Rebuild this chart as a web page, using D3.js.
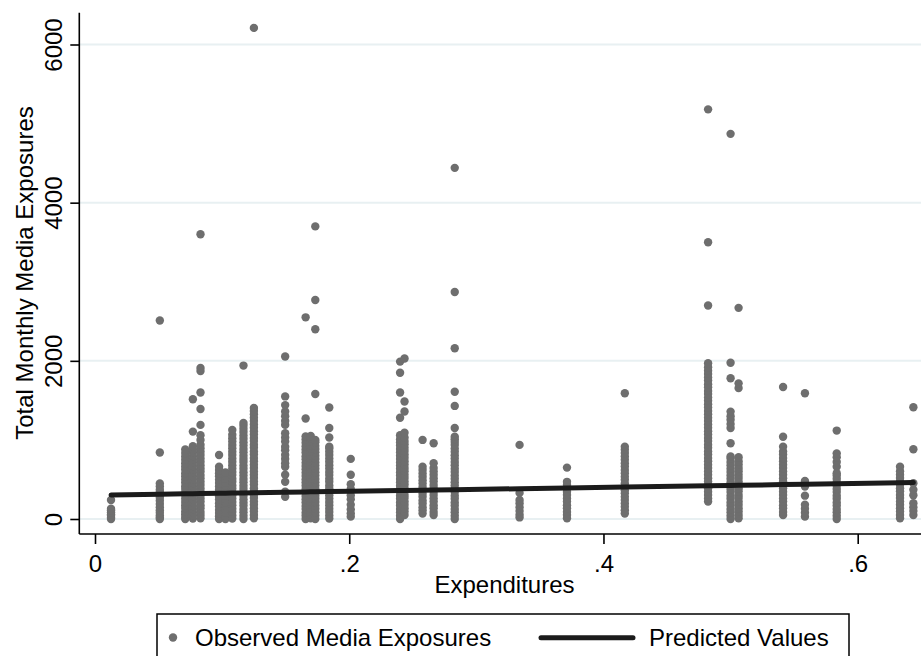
<!DOCTYPE html>
<html>
<head>
<meta charset="utf-8">
<script src="https://cdn.jsdelivr.net/npm/d3@7"></script>
<style>
  body { margin: 0; background: #fff; }
  svg { display: block; font-family: "Liberation Sans", Arial, sans-serif; }
</style>
</head>
<body>
<svg id="chart" width="921" height="656"></svg>
<script>
// expenditure levels (x) and the observed exposures at each level
const expenditures = [0.0126, 0.051, 0.071, 0.077, 0.083, 0.0976, 0.1026, 0.108, 0.1168, 0.125,
  0.1496, 0.1657, 0.1697, 0.1733, 0.1843, 0.2012, 0.240, 0.2435, 0.2577, 0.2664, 0.283,
  0.334, 0.3713, 0.4168, 0.4823, 0.5, 0.5063, 0.5413, 0.5585, 0.5835, 0.6333, 0.6438]

const exposures = [
  [0, 15, 40, 60, 85, 110, 130, 240],
  [0, 20, 45, 80, 110, 150, 190, 230, 270, 300, 340, 370, 410, 450, 840, 2510],
  [0, 25, 60, 95, 140, 175, 215, 255, 300, 335, 380, 415, 460, 500, 540, 580, 625, 665, 705, 750, 790, 835, 880],
  [5, 45, 85, 125, 165, 210, 250, 290, 335, 375, 415, 455, 500, 540, 585, 625, 670, 710, 750, 795, 840, 880, 920, 1105, 1515],
  [10, 50, 90, 135, 175, 220, 260, 300, 345, 385, 430, 470, 515, 555, 600, 640, 680, 725, 765, 810, 850, 895, 940, 1000, 1060, 1190, 1390, 1600, 1870, 1910, 3600],
  [0, 35, 75, 115, 160, 200, 245, 285, 330, 370, 410, 455, 495, 540, 580, 620, 660, 810],
  [0, 40, 85, 125, 170, 210, 255, 295, 340, 380, 425, 465, 510, 550, 590],
  [5, 45, 90, 130, 175, 215, 260, 300, 340, 385, 425, 470, 510, 555, 595, 640, 680, 725, 765, 810, 850, 895, 935, 980, 1020, 1065, 1125],
  [0, 40, 85, 125, 170, 210, 250, 295, 335, 380, 420, 465, 505, 550, 590, 635, 675, 720, 760, 800, 845, 885, 930, 970, 1015, 1055, 1100, 1140, 1180, 1215, 1940],
  [10, 50, 95, 135, 180, 220, 265, 305, 350, 390, 435, 475, 520, 560, 600, 645, 685, 730, 770, 815, 855, 900, 940, 985, 1025, 1070, 1110, 1155, 1195, 1240, 1280, 1325, 1365, 1405, 6210],
  [280, 345, 470, 560, 660, 705, 760, 810, 870, 915, 980, 1030, 1085, 1190, 1240, 1300, 1360, 1440, 1550, 2055],
  [0, 40, 80, 125, 165, 210, 250, 290, 335, 375, 420, 460, 500, 545, 585, 630, 670, 710, 755, 795, 840, 880, 920, 965, 1005, 1045, 1270, 2550],
  [10, 55, 95, 140, 180, 220, 265, 305, 350, 390, 430, 475, 515, 560, 600, 640, 685, 725, 770, 810, 850, 895, 935, 980, 1020, 1050],
  [0, 45, 85, 130, 170, 215, 255, 295, 340, 380, 425, 465, 505, 550, 590, 635, 675, 715, 760, 800, 845, 885, 925, 970, 1000, 1580, 2400, 2770, 3700],
  [5, 45, 90, 130, 175, 215, 260, 300, 345, 385, 425, 470, 510, 555, 595, 640, 680, 725, 765, 810, 850, 890, 915, 1030, 1150, 1410],
  [30, 70, 120, 180, 250, 300, 380, 440, 560, 760],
  [0, 40, 85, 125, 170, 210, 255, 295, 340, 380, 420, 465, 505, 550, 590, 635, 675, 715, 760, 800, 845, 885, 930, 970, 1010, 1060, 1280, 1600, 1850, 1990],
  [50, 95, 135, 180, 220, 265, 305, 350, 390, 435, 475, 520, 560, 605, 645, 690, 730, 775, 815, 860, 900, 945, 985, 1030, 1090, 1360, 1485, 2030],
  [70, 110, 150, 195, 235, 280, 320, 365, 405, 450, 490, 535, 575, 620, 660, 1000],
  [50, 90, 135, 175, 220, 260, 305, 345, 390, 430, 475, 515, 560, 600, 645, 705, 958],
  [0, 40, 85, 125, 170, 210, 255, 295, 340, 380, 425, 465, 510, 550, 595, 635, 680, 720, 765, 805, 850, 890, 935, 975, 1010, 1040, 1150, 1430, 1610, 2160, 2870, 4440],
  [20, 55, 100, 150, 200, 240, 330, 937],
  [10, 50, 90, 135, 175, 220, 260, 305, 345, 390, 430, 470, 650],
  [70, 110, 155, 195, 240, 280, 325, 365, 410, 450, 495, 535, 580, 620, 665, 705, 750, 790, 835, 875, 915, 1590],
  [220, 260, 305, 345, 390, 430, 475, 515, 560, 600, 645, 685, 730, 770, 815, 855, 900, 940, 985, 1025, 1070, 1110, 1155, 1195, 1240, 1280, 1325, 1365, 1410, 1450, 1495, 1535, 1580, 1620, 1665, 1705, 1750, 1790, 1835, 1875, 1920, 1970, 2700, 3500, 5180],
  [0, 40, 85, 125, 170, 210, 255, 295, 340, 380, 425, 465, 510, 550, 595, 635, 680, 720, 765, 790, 958, 1150, 1200, 1255, 1300, 1358, 1780, 1975, 4870],
  [10, 50, 95, 135, 180, 220, 265, 305, 350, 390, 435, 475, 520, 560, 605, 645, 690, 730, 780, 1655, 1715, 2670],
  [50, 90, 135, 175, 220, 260, 305, 345, 390, 430, 475, 515, 560, 600, 645, 685, 730, 770, 815, 855, 915, 1040, 1670],
  [30, 80, 130, 180, 295, 410, 445, 480, 1590],
  [0, 40, 85, 125, 170, 210, 255, 295, 340, 380, 425, 465, 510, 550, 580, 660, 720, 780, 830, 1118],
  [10, 50, 95, 135, 180, 220, 265, 305, 350, 390, 435, 475, 520, 560, 605, 660],
  [50, 100, 150, 200, 300, 370, 452, 882, 1413]
]

// fitted values, one per expenditure level
const predicted = [304, 314, 319, 320, 322, 325, 326, 328, 330, 332, 338, 342, 343, 344, 347, 351,
  360, 361, 365, 367, 371, 383, 393, 404, 420, 425, 426, 435, 439, 445, 457, 460]

const yTicks = [0, 2000, 4000, 6000]
const xTicks = [0, 0.2, 0.4, 0.6]
const legendLabels = ['Observed Media Exposures', 'Predicted Values']

const svg = d3.select('#chart')

const plot = { left: 79.3, right: 921, top: 12.7, bottom: 534 }

const x = d3.scaleLinear().domain([0, 0.6]).range([95, 857.7])
const y = d3.scaleLinear().domain([0, 6000]).range([519, 44.5])

const DOT = '#6e6e6e'
const LINE = '#1b1b1b'

// gridlines
svg.append('g')
  .selectAll('line')
  .data(yTicks)
  .enter().append('line')
  .attr('x1', plot.left).attr('x2', plot.right)
  .attr('y1', d => y(d)).attr('y2', d => y(d))
  .attr('stroke', '#e8f0f2')
  .attr('stroke-width', 2)

// observed points
const points = []
expenditures.forEach((e, i) => {
  exposures[i].forEach(v => points.push({ x: e, y: v }))
})

svg.append('g')
  .selectAll('circle')
  .data(points)
  .enter().append('circle')
  .attr('cx', d => x(d.x))
  .attr('cy', d => y(d.y))
  .attr('r', 4.2)
  .attr('fill', DOT)

// fitted line
const fit = expenditures.map((e, i) => [e, predicted[i]])
svg.append('path')
  .datum(fit)
  .attr('fill', 'none')
  .attr('stroke', LINE)
  .attr('stroke-width', 5)
  .attr('stroke-linecap', 'round')
  .attr('d', d3.line().x(d => x(d[0])).y(d => y(d[1])))

// axes
const yAxis = svg.append('g')
  .attr('transform', `translate(${plot.left},0)`)
  .call(d3.axisLeft(y).tickValues(yTicks).tickSize(9).tickPadding(0).tickFormat(d3.format('d')))
yAxis.select('.domain').remove()
yAxis.selectAll('.tick line').attr('stroke', '#000').attr('stroke-width', 1.6)
yAxis.selectAll('.tick text')
  .attr('transform', 'rotate(-90)')
  .attr('x', 0).attr('y', -17.6).attr('dy', 0)
  .attr('text-anchor', 'middle')
  .attr('fill', '#000')
  .style('font-size', '24px')

const xAxis = svg.append('g')
  .attr('transform', `translate(0,${plot.bottom})`)
  .call(d3.axisBottom(x).tickValues(xTicks).tickSize(10)
    .tickFormat(d => d === 0 ? '0' : d3.format('.1f')(d).replace(/^0/, '')))
xAxis.select('.domain').remove()
xAxis.selectAll('.tick line').attr('stroke', '#000').attr('stroke-width', 1.6)
xAxis.selectAll('.tick text')
  .attr('y', 37.5).attr('dy', 0)
  .attr('fill', '#000')
  .style('font-size', '24px')

svg.append('line')
  .attr('x1', plot.left).attr('x2', plot.left)
  .attr('y1', plot.top).attr('y2', plot.bottom)
  .attr('stroke', '#000').attr('stroke-width', 1.6)
svg.append('line')
  .attr('x1', plot.left).attr('x2', plot.right)
  .attr('y1', plot.bottom).attr('y2', plot.bottom)
  .attr('stroke', '#000').attr('stroke-width', 1.6)

// axis titles
svg.append('text')
  .attr('x', 504.5).attr('y', 593)
  .attr('text-anchor', 'middle')
  .style('font-size', '24px')
  .text('Expenditures')

svg.append('text')
  .attr('transform', 'translate(33,273) rotate(-90)')
  .attr('text-anchor', 'middle')
  .style('font-size', '24px')
  .text('Total Monthly Media Exposures')

// legend
const legend = svg.append('g')
legend.append('rect')
  .attr('x', 157).attr('y', 614)
  .attr('width', 692).attr('height', 60)
  .attr('fill', '#fff')
  .attr('stroke', '#000').attr('stroke-width', 1.5)
legend.append('circle')
  .attr('cx', 173).attr('cy', 637.5).attr('r', 4.2).attr('fill', DOT)
legend.append('text')
  .attr('x', 195).attr('y', 645.5)
  .style('font-size', '24px')
  .text(legendLabels[0])
legend.append('line')
  .attr('x1', 541).attr('x2', 633)
  .attr('y1', 637.7).attr('y2', 637.7)
  .attr('stroke', LINE).attr('stroke-width', 5)
  .attr('stroke-linecap', 'round')
legend.append('text')
  .attr('x', 649).attr('y', 645.5)
  .style('font-size', '24px')
  .text(legendLabels[1])
</script>
</body>
</html>
